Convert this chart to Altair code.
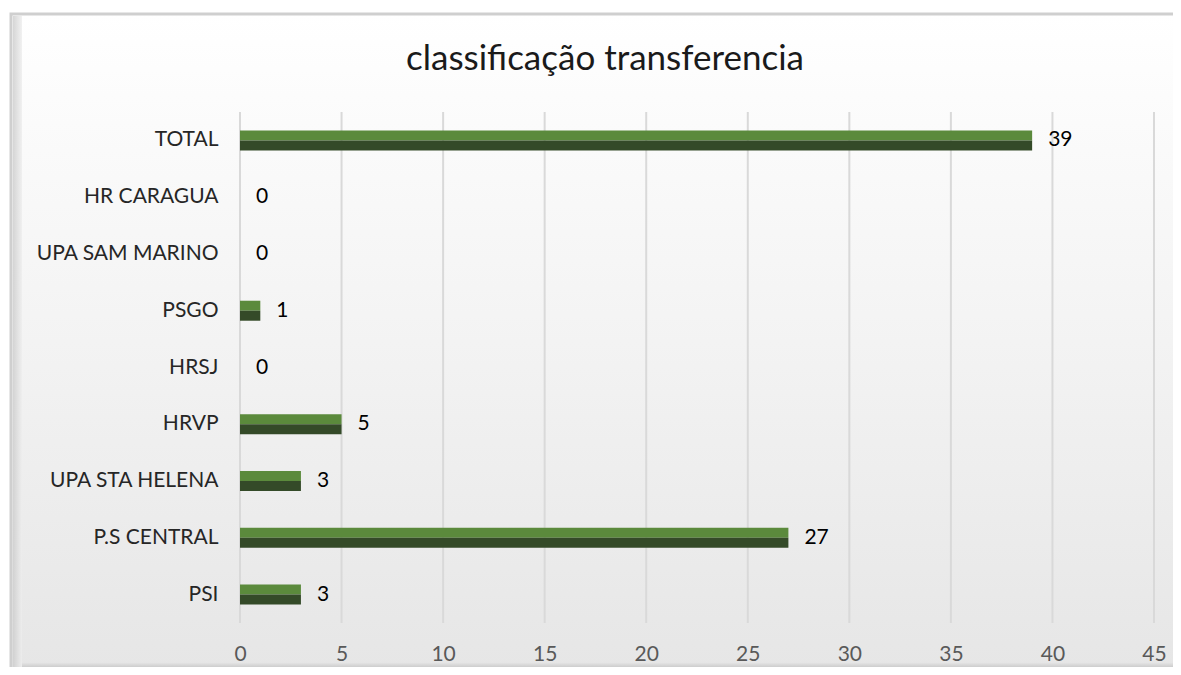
import altair as alt
import pandas as pd

categories = ["TOTAL", "HR CARAGUA", "UPA SAM MARINO", "PSGO", "HRSJ", "HRVP",
              "UPA STA HELENA", "P.S CENTRAL", "PSI"]
values = [39, 0, 0, 1, 0, 5, 3, 27, 3]
x_ticks = [0, 5, 10, 15, 20, 25, 30, 35, 40, 45]
title_text = "classificação transferencia"

df = pd.DataFrame({"cat": categories, "val": values})
grid_df = pd.DataFrame({"val": x_ticks})

W, H = 914, 511
FONT = "Lato"
one = alt.Data(values=[{"a": 1}])

frame = alt.Chart(one).mark_rect(
    fill=alt.Gradient(
        gradient="linear", x1=0, y1=0, x2=0, y2=1,
        stops=[alt.GradientStop(offset=0, color="#ffffff"),
               alt.GradientStop(offset=0.5, color="#f3f3f3"),
               alt.GradientStop(offset=1, color="#e6e6e6")]),
    stroke="#cfcfcf", strokeWidth=3,
).encode(x=alt.value(-229), x2=alt.value(950), y=alt.value(-98), y2=alt.value(557))

left_bevel = alt.Chart(one).mark_rect(
    fill=alt.Gradient(
        gradient="linear", x1=0, y1=0, x2=1, y2=0,
        stops=[alt.GradientStop(offset=0, color="#cccccc"),
               alt.GradientStop(offset=1, color="#eeeeee")]),
    opacity=0.8,
).encode(x=alt.value(-227), x2=alt.value(-218), y=alt.value(-96), y2=alt.value(555))

bottom_bevel = alt.Chart(one).mark_rect(
    fill=alt.Gradient(
        gradient="linear", x1=0, y1=0, x2=0, y2=1,
        stops=[alt.GradientStop(offset=0, color="#e8e8e8"),
               alt.GradientStop(offset=1, color="#c8c8c8")]),
).encode(x=alt.value(-218), x2=alt.value(950), y=alt.value(550), y2=alt.value(556))

yenc = alt.Y("cat:N", sort=categories, title=None,
             axis=alt.Axis(labelFontSize=21, labelColor="#262626", labelFont=FONT,
                           labelPadding=22, labelLimit=400, ticks=False, domain=False,
                           grid=False, zindex=1))
xscale = alt.Scale(domain=[0, 45], nice=False)
xenc = alt.X("val:Q", title=None, scale=xscale,
             axis=alt.Axis(values=x_ticks, labelFontSize=21, labelColor="#595959",
                           labelFont=FONT, labelPadding=20, ticks=False, domain=False,
                           grid=False, labelFlush=False, zindex=1))

grid = alt.Chart(grid_df).mark_rule(color="#d9d9d9", strokeWidth=2).encode(
    x=alt.X("val:Q", scale=xscale), y=alt.value(0), y2=alt.value(H))

base = alt.Chart(df)
top = base.mark_bar(color="#5b8a3c", size=10, yOffset=-5).encode(x=xenc, y=yenc)
bottom = base.mark_bar(color="#344a28", size=10, yOffset=5).encode(x=xenc, y=yenc)
labels = base.mark_text(align="left", dx=16, fontSize=21, font=FONT, color="#000000",
                        baseline="middle").encode(x=xenc, y=yenc, text="val:Q")

chart = alt.layer(frame, left_bevel, bottom_bevel, grid, top, bottom, labels).properties(
    width=W, height=H,
    title=alt.TitleParams(title_text, fontSize=35, font=FONT, fontWeight="normal",
                          color="#1a1a1a", anchor="middle", dx=-92, offset=-64,
                          frame="group"),
    padding={"left": 232, "top": 104, "right": 19, "bottom": 44},
    autosize=alt.AutoSizeParams(type="none"),
    background="#ffffff",
).configure_view(stroke=None)

chart.save("out.html", embed_options={"renderer": "svg", "actions": False})
